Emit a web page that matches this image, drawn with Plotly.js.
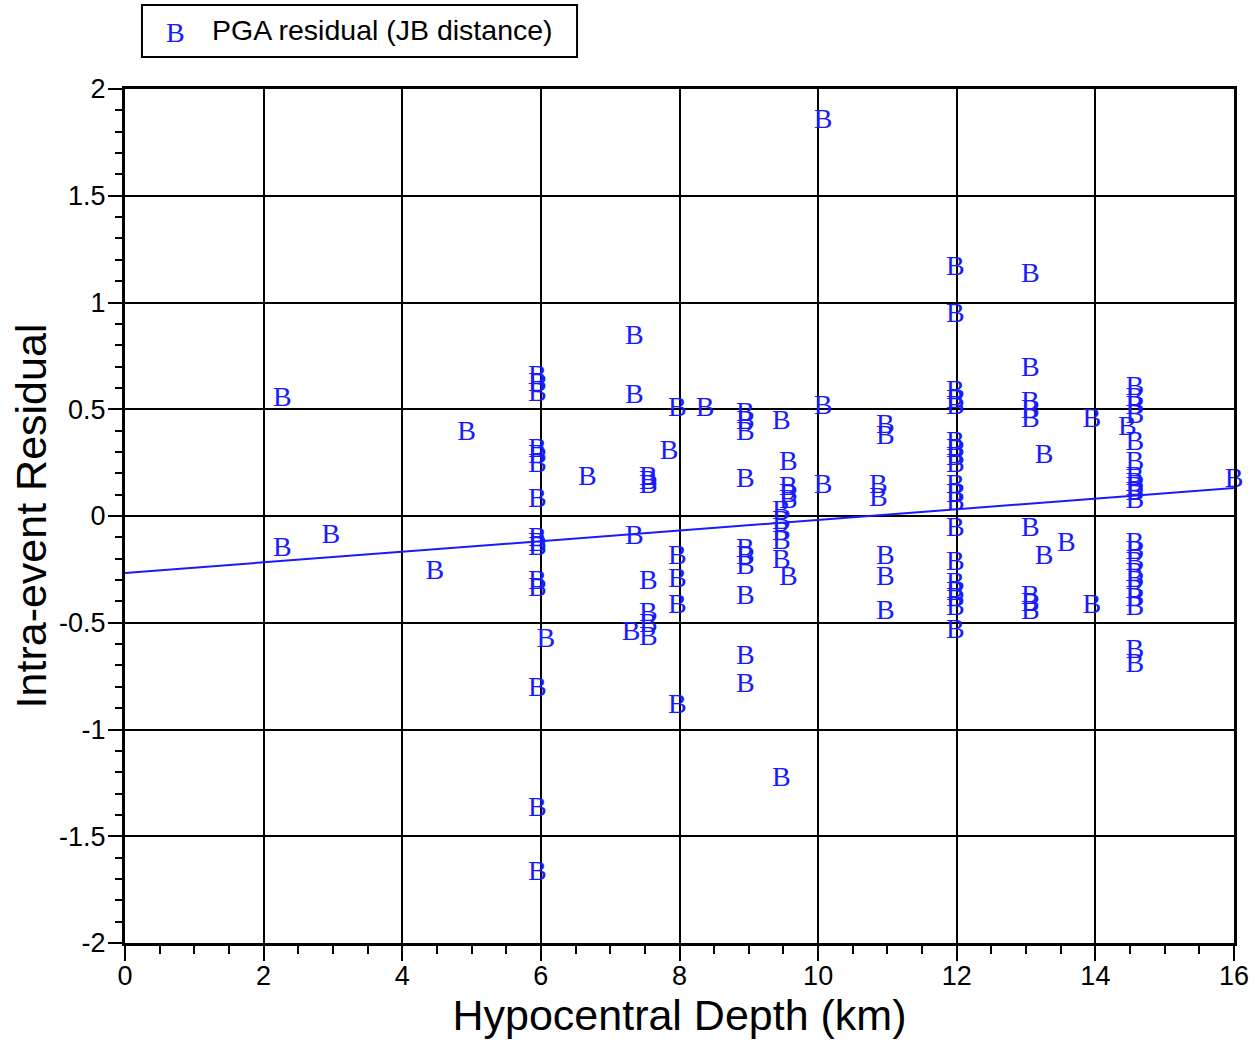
<!DOCTYPE html>
<html>
<head>
<meta charset="utf-8">
<script src="https://cdn.plot.ly/plotly-3.0.1.min.js"></script>
<style>html,body{margin:0;padding:0;background:#fff;}#chart{width:1255px;height:1040px;}</style>
</head>
<body>
<div id="chart"></div>
<script>
// Hypocentral depth (km) of each record
const depths = [
  2.27, 2.27,
  2.97,
  4.47,
  4.93,
  5.95, 5.95, 5.95, 5.95, 5.95, 5.95, 5.95, 5.95, 5.95, 5.95, 5.95, 5.95, 5.95, 5.95, 5.95,
  6.07,
  6.67,
  7.35, 7.35, 7.35,
  7.30,
  7.55, 7.55, 7.55, 7.55, 7.55, 7.55, 7.55,
  7.85,
  7.97, 7.97, 7.97, 7.97, 7.97,
  8.37,
  8.95, 8.95, 8.95, 8.95, 8.95, 8.95, 8.95, 8.95, 8.95, 8.95,
  9.47, 9.47, 9.47, 9.47, 9.47, 9.47, 9.47,
  9.57, 9.57, 9.57, 9.57, 9.57,
  10.07, 10.07, 10.07,
  10.97, 10.97, 10.97, 10.97, 10.97,
  10.87, 10.87,
  11.98, 11.98, 11.98, 11.98, 11.98, 11.98, 11.98, 11.98, 11.98, 11.98, 11.98, 11.98, 11.98, 11.98, 11.98, 11.98, 11.98, 11.98, 11.98,
  13.06, 13.06, 13.06, 13.06, 13.06, 13.06, 13.06, 13.06, 13.06,
  13.26, 13.26,
  13.58,
  13.95, 13.95,
  14.46,
  14.57, 14.57, 14.57, 14.57, 14.57, 14.57, 14.57, 14.57, 14.57, 14.57, 14.57, 14.57, 14.57, 14.57, 14.57, 14.57, 14.57, 14.57, 14.57, 14.57, 14.57,
  16.0
];
// Intra-event PGA residual (JB distance)
const residuals = [
  0.55, -0.155,
  -0.094,
  -0.26,
  0.39,
  0.65, 0.62, 0.57, 0.31, 0.28, 0.24, 0.075, -0.11, -0.13, -0.15, -0.31, -0.34, -0.81, -1.37, -1.67,
  -0.58,
  0.18,
  0.84, 0.56, -0.10,
  -0.55,
  0.18, 0.16, 0.14, -0.31, -0.46, -0.51, -0.57,
  0.30,
  0.50, -0.19, -0.30, -0.42, -0.89,
  0.50,
  0.48, 0.44, 0.39, 0.17, -0.16, -0.19, -0.24, -0.38, -0.66, -0.79,
  0.44, 0.02, -0.03, -0.08, -0.12, -0.21, -1.23,
  0.25, 0.13, 0.10, 0.07, -0.29,
  1.85, 0.51, 0.14,
  0.42, 0.37, -0.19, -0.29, -0.45,
  0.14, 0.08,
  1.16, 0.94, 0.58, 0.54, 0.51, 0.34, 0.31, 0.27, 0.24, 0.14, 0.10, 0.06, -0.06, -0.22, -0.32, -0.36, -0.39, -0.43, -0.54,
  1.13, 0.69, 0.53, 0.49, 0.45, -0.06, -0.38, -0.41, -0.45,
  0.28, -0.19,
  -0.13,
  0.45, -0.42,
  0.41,
  0.60, 0.55, 0.51, 0.47, 0.34, 0.25, 0.18, 0.15, 0.13, 0.11, 0.07, -0.13, -0.17, -0.22, -0.27, -0.30, -0.35, -0.39, -0.43, -0.63, -0.70,
  0.17
];
// Fitted trend line end points
const fitDepth = [0, 16];
const fitResidual = [-0.267, 0.131];

// Tick labels (hyphen minus as in the reference)
const xTickVals = [0, 2, 4, 6, 8, 10, 12, 14, 16];
const xTickText = ['0', '2', '4', '6', '8', '10', '12', '14', '16'];
const yTickVals = [-2, -1.5, -1, -0.5, 0, 0.5, 1, 1.5, 2];
const yTickText = ['-2', '-1.5', '-1', '-0.5', '0', '0.5', '1', '1.5', '2'];

const seriesName = 'PGA residual (JB distance)';
const markerLetter = 'B';
const xTitle = 'Hypocentral Depth (km)';
const yTitle = 'Intra-event Residual';

const blue = '#1a1aff';
const sans = 'Liberation Sans, Arial, sans-serif';
const serif = 'Liberation Serif, Times New Roman, serif';

const traces = [
  {
    x: fitDepth, y: fitResidual, type: 'scatter', mode: 'lines',
    line: {color: blue, width: 2}, showlegend: false, hoverinfo: 'skip'
  },
  {
    x: depths, y: residuals, type: 'scatter', mode: 'text',
    text: depths.map(() => markerLetter), textposition: 'middle center',
    textfont: {family: serif, size: 28, color: blue},
    name: seriesName, showlegend: false, cliponaxis: false
  }
];

const layout = {
  width: 1255, height: 1040,
  margin: {l: 125, r: 21, t: 89, b: 97, pad: 0},
  paper_bgcolor: '#fff', plot_bgcolor: '#fff',
  showlegend: false,
  font: {family: sans, size: 27, color: '#000'},
  xaxis: {
    range: [0, 16], tickmode: 'array', tickvals: xTickVals, ticktext: xTickText,
    showgrid: true, gridcolor: '#000', gridwidth: 2,
    zeroline: false,
    showline: true, linecolor: '#000', linewidth: 3, mirror: true,
    ticks: 'outside', ticklen: 15, tickwidth: 2, tickcolor: '#000',
    ticklabelstandoff: -8,
    tickfont: {family: sans, size: 27, color: '#000'},
    minor: {tickmode: 'linear', tick0: 0, dtick: 0.5, ticklen: 8, tickwidth: 2, tickcolor: '#000', ticks: 'outside', showgrid: false},
    title: {text: xTitle, font: {family: sans, size: 43, color: '#000'}, standoff: 10},
    automargin: false
  },
  yaxis: {
    range: [-2, 2], tickmode: 'array', tickvals: yTickVals, ticktext: yTickText,
    showgrid: true, gridcolor: '#000', gridwidth: 2,
    zeroline: false,
    showline: true, linecolor: '#000', linewidth: 3, mirror: true,
    ticks: 'outside', ticklen: 14, tickwidth: 2, tickcolor: '#000',
    ticklabelstandoff: -3,
    tickfont: {family: sans, size: 27, color: '#000'},
    minor: {tickmode: 'linear', tick0: 0, dtick: 0.1, ticklen: 7, tickwidth: 2, tickcolor: '#000', ticks: 'outside', showgrid: false},
    title: {text: yTitle, font: {family: sans, size: 43, color: '#000'}, standoff: 0},
    automargin: false
  },
  shapes: [
    {type: 'rect', xref: 'paper', yref: 'paper', x0: 0.0153, x1: 0.4076, y0: 1.0375, y1: 1.0984,
     line: {color: '#000', width: 2}, fillcolor: '#fff'}
  ],
  annotations: [
    {xref: 'paper', yref: 'paper', x: 0.0451, y: 1.066, text: markerLetter, showarrow: false,
     xanchor: 'center', yanchor: 'middle', font: {family: serif, size: 28, color: blue}},
    {xref: 'paper', yref: 'paper', x: 0.0766, y: 1.069, text: seriesName, showarrow: false,
     xanchor: 'left', yanchor: 'middle', font: {family: sans, size: 28.5, color: '#000'}}
  ]
};

Plotly.newPlot('chart', traces, layout, {displayModeBar: false, staticPlot: true});
</script>
</body>
</html>
